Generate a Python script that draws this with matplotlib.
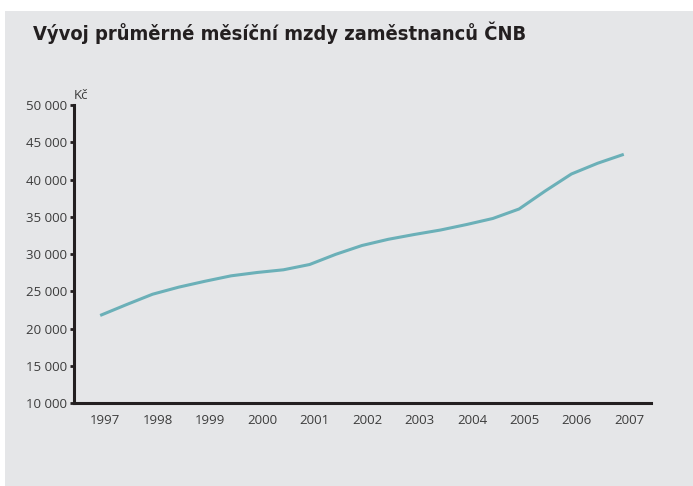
import matplotlib
matplotlib.use("Agg")
import matplotlib.pyplot as plt
from matplotlib.patches import Rectangle
from matplotlib.ticker import FuncFormatter

# average monthly wage of CNB employees (CZK) at half-year steps
years = [1997.0, 1997.5, 1998.0, 1998.5, 1999.0, 1999.5, 2000.0, 2000.5,
         2001.0, 2001.5, 2002.0, 2002.5, 2003.0, 2003.5, 2004.0, 2004.5,
         2005.0, 2005.5, 2006.0, 2006.5, 2007.0]
wage = [21750, 23200, 24600, 25550, 26340, 27070, 27520, 27880,
        28590, 29960, 31140, 31970, 32620, 33220, 33960, 34770,
        36040, 38460, 40740, 42180, 43380]
year_labels = ['1997', '1998', '1999', '2000', '2001', '2002',
               '2003', '2004', '2005', '2006', '2007']
y_ticks = [10000, 15000, 20000, 25000, 30000, 35000, 40000, 45000, 50000]

W, H = 693, 486
fig = plt.figure(figsize=(W / 100, H / 100), dpi=100)
fig.patch.set_facecolor('white')

# gray panel behind everything
fig.patches.append(Rectangle((5 / W, 0), 1 - 5 / W, 1 - 11 / H,
                             transform=fig.transFigure, facecolor='#e5e6e8',
                             edgecolor='none', zorder=-10))

fig.text(33 / W, 1 - 33 / H, 'Vývoj průměrné měsíční mzdy zaměstnanců ČNB',
         fontsize=14.4, fontweight='bold', color='#231f20', va='center', ha='left',
         family='DejaVu Sans', fontstretch='condensed')

ax = fig.add_axes([74 / W, 83 / H, (651 - 74) / W, (403 - 105) / H])
ax.set_facecolor('none')

ax.plot(years, wage, color='#6bb0b8', lw=2.2, solid_capstyle='butt')

ax.set_xlim(1996.5, 2007.52)
ax.set_ylim(10000, 50000)
ax.set_yticks(y_ticks)
ax.yaxis.set_major_formatter(FuncFormatter(lambda v, p: f'{int(v):,}'.replace(',', ' ')))
# labels sit a little right of the data points in the original
ax.set_xticks([y + 0.1 for y in range(1997, 2008)])
ax.set_xticklabels(year_labels)

for s in ['top', 'right']:
    ax.spines[s].set_visible(False)
for s in ['left', 'bottom']:
    ax.spines[s].set_linewidth(2.2)
    ax.spines[s].set_color('#231f20')

ax.tick_params(axis='y', length=3, width=2, color='#231f20', pad=2,
               labelsize=9.5, labelcolor='#3c3c3c')
ax.tick_params(axis='x', length=0, pad=8, labelsize=9.5, labelcolor='#3c3c3c')
for lab in ax.get_xticklabels() + ax.get_yticklabels():
    lab.set_family('Open Sans')

ax.text(0.0, 1.01, 'Kč', transform=ax.transAxes, fontsize=9.5, color='#3c3c3c',
        ha='left', va='bottom', family='Open Sans')

fig.savefig('out.png', dpi=100, facecolor=fig.get_facecolor())
